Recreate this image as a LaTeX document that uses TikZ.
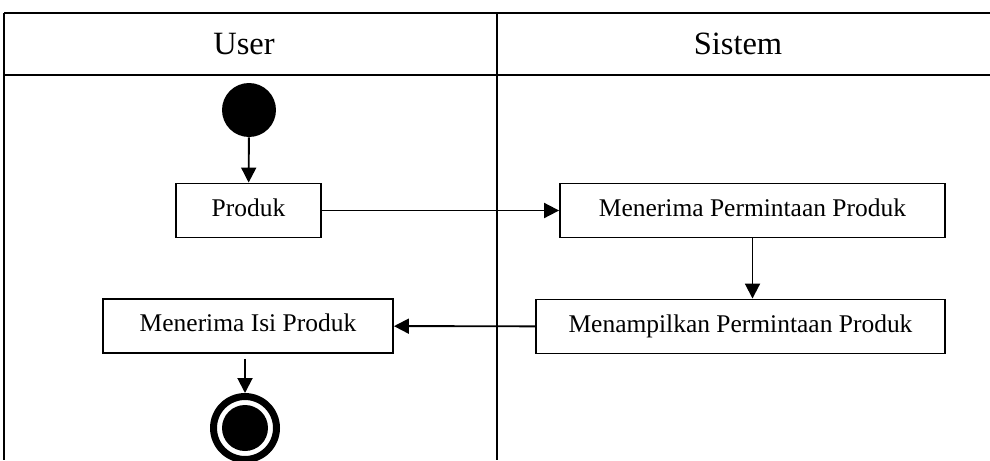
\documentclass[tikz,border=0pt]{standalone}
\usepackage{fontspec}
\setmainfont{Liberation Serif}
\usetikzlibrary{positioning,arrows.meta}

\begin{document}
\begin{tikzpicture}[
  x=0.02cm, y=-0.02cm,
  font=\fontsize{14.5}{17}\selectfont,
  act/.style={draw,line width=1.1pt,minimum height=1.08cm,inner sep=0pt,
    text height=0.66em,text depth=0pt,align=center},
  lane/.style={line width=1.3pt},
  start/.style={circle,fill=black,minimum size=1.08cm,inner sep=0pt},
  stop/.style={circle,draw,line width=0.14cm,minimum size=1.26cm,inner sep=0pt},
  >={Triangle[length=3mm,width=3mm]}
]
\clip (0,0) rectangle (990,460);

% swimlanes
\draw[lane] (4,13) -- (990,13);
\draw[lane] (4,75) -- (990,75);
\draw[lane] (4,13) -- (4,460);
\draw[lane] (497,13) -- (497,460);
\node[font=\fontsize{18.5}{21}\selectfont] (user) at (244,44) {User};
\node[font=\fontsize{18.5}{21}\selectfont] (sistem) at (738,44) {Sistem};

% activities
\node[start] (mulai) at (249,110) {};
\node[act,minimum width=2.9cm] (produk) at (248.5,210.5) {Produk};
\node[act,minimum width=7.7cm] (terima) at (752.5,210.5) {Menerima Permintaan Produk};
\node[act,minimum width=8.18cm] (tampil) at (740.5,326.5) {Menampilkan Permintaan Produk};
\node[act,minimum width=5.8cm] (isi) at (248,326) {Menerima Isi Produk};
\node[stop] (selesai) at (245,428) {};
\fill (selesai.center) circle (0.46cm);

\draw[->,line width=1.1pt] (mulai) -- (produk);
\draw[->,line width=1.1pt] (produk) -- (terima);
\draw[->,line width=1.1pt] (terima.south) -- (terima.south |- tampil.north);
\draw[->,line width=1.1pt] (tampil) -- (isi);
\draw[->,line width=1.1pt,shorten <=0.1cm] (selesai.north |- isi.south) -- (selesai.north);
\end{tikzpicture}
\end{document}
